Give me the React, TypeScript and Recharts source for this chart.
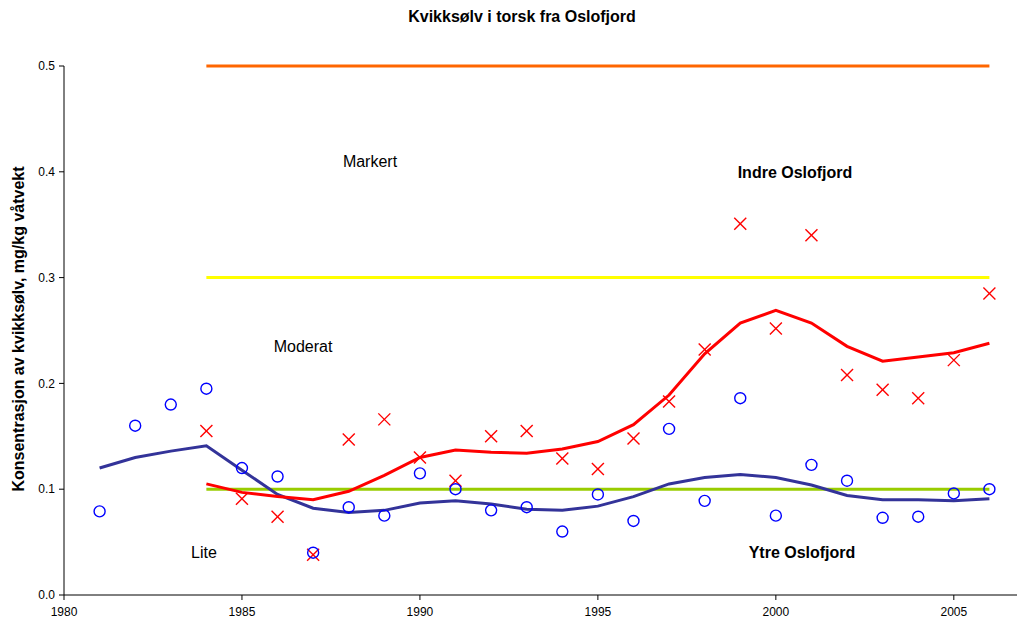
import React from "react";
import { ComposedChart, Line, XAxis, YAxis, ReferenceLine } from "recharts";

const years = [1981,1982,1983,1984,1985,1986,1987,1988,1989,1990,1991,1992,1993,1994,1995,1996,1997,1998,1999,2000,2001,2002,2003,2004,2005,2006];
const ytre = [0.079,0.160,0.180,0.195,0.120,0.112,0.040,0.083,0.075,0.115,0.100,0.080,0.083,0.060,0.095,0.070,0.157,0.089,0.186,0.075,0.123,0.108,0.073,0.074,0.096,0.100];
const indre = [null,null,null,0.155,0.091,0.074,0.038,0.147,0.166,0.130,0.108,0.150,0.155,0.129,0.119,0.148,0.183,0.232,0.351,0.252,0.340,0.208,0.194,0.186,0.222,0.285];
const ytreTrend = [0.120,0.130,0.136,0.141,0.118,0.095,0.082,0.078,0.080,0.087,0.089,0.086,0.081,0.080,0.084,0.093,0.105,0.111,0.114,0.111,0.104,0.094,0.090,0.090,0.089,0.091];
const indreTrend = [null,null,null,0.105,0.097,0.093,0.090,0.098,0.113,0.130,0.137,0.135,0.134,0.138,0.145,0.161,0.189,0.228,0.257,0.269,0.257,0.235,0.221,0.225,0.229,0.238];
const thresholds = [0.1, 0.3, 0.5];
const thresholdColors = ["#99CC00", "#FFFF00", "#FF6600"];
const thresholdStart = 1984;
const thresholdEnd = 2006;
const xTicks = [1980, 1985, 1990, 1995, 2000, 2005];
const yTicks = [0, 0.1, 0.2, 0.3, 0.4, 0.5];

const data = years.map((y, i) => ({
  year: y,
  ytre: ytre[i],
  indre: indre[i],
  ytreTrend: ytreTrend[i],
  indreTrend: indreTrend[i],
}));

const Circle = (p: any) => {
  if (p.cy == null || p.value == null) return <g key={p.key} />;
  return <circle key={p.key} cx={p.cx} cy={p.cy} r={5.5} fill="none" stroke="#0000FF" strokeWidth={1.4} />;
};
const Cross = (p: any) => {
  if (p.cy == null || p.value == null) return <g key={p.key} />;
  const s = 6;
  return (
    <g key={p.key}>
      <line x1={p.cx - s} y1={p.cy - s} x2={p.cx + s} y2={p.cy + s} stroke="#FF0000" strokeWidth={1.4} />
      <line x1={p.cx - s} y1={p.cy + s} x2={p.cx + s} y2={p.cy - s} stroke="#FF0000" strokeWidth={1.4} />
    </g>
  );
};

const font = "'Liberation Sans', Arial, sans-serif";

const Txt = ({ x, y, bold, size, children, rotate }: any) => (
  <div
    style={{
      position: "absolute",
      left: x,
      top: y,
      transform: `translate(-50%,-50%)${rotate ? " rotate(-90deg)" : ""}`,
      fontFamily: font,
      fontSize: size,
      fontWeight: bold ? "bold" : "normal",
      lineHeight: 1,
      whiteSpace: "nowrap",
      color: "#000",
    }}
  >
    {children}
  </div>
);

export default function App() {
  return (
    <div style={{ position: "fixed", left: 0, top: 0, width: 1017, height: 621, overflow: "hidden", background: "#fff" }}>
      <ComposedChart width={1040} height={621} data={data} margin={{ top: 66, right: 15, bottom: 6, left: 14 }}>
        <XAxis
          dataKey="year"
          type="number"
          domain={[1980, 2007]}
          ticks={xTicks}
          allowDecimals={false}
          height={20}
          tick={{ fontSize: 12, fill: "#000", fontFamily: font }}
          tickLine={{ stroke: "#000" }}
          axisLine={{ stroke: "#000" }}
          tickSize={5}
          tickMargin={7}
        />
        <YAxis
          type="number"
          domain={[0, 0.5]}
          ticks={yTicks}
          width={50}
          tickFormatter={(v: number) => v.toFixed(1)}
          tick={{ fontSize: 12, fill: "#000", fontFamily: font }}
          tickLine={{ stroke: "#000" }}
          axisLine={{ stroke: "#000" }}
          tickSize={5}
          tickMargin={4}
        />
        {thresholds.map((t, i) => (
          <ReferenceLine
            key={t}
            segment={[{ x: thresholdStart, y: t }, { x: thresholdEnd, y: t }]}
            stroke={thresholdColors[i]}
            strokeWidth={3}
            ifOverflow="visible"
          />
        ))}
        <Line dataKey="ytreTrend" type="linear" stroke="#333399" strokeWidth={3} dot={false} isAnimationActive={false} connectNulls={false} />
        <Line dataKey="indreTrend" type="linear" stroke="#FF0000" strokeWidth={3} dot={false} isAnimationActive={false} connectNulls={false} />
        <Line dataKey="indre" type="linear" stroke="none" strokeWidth={0} dot={Cross} activeDot={false} isAnimationActive={false} />
        <Line dataKey="ytre" type="linear" stroke="none" strokeWidth={0} dot={Circle} activeDot={false} isAnimationActive={false} />
      </ComposedChart>
      <Txt x={522} y={17} bold size={16}>Kvikksølv i torsk fra Oslofjord</Txt>
      <Txt x={19} y={329} bold size={16} rotate>Konsentrasjon av kvikksølv, mg/kg våtvekt</Txt>
      <Txt x={370} y={162} size={16}>Markert</Txt>
      <Txt x={303} y={347} size={16}>Moderat</Txt>
      <Txt x={204} y={553} size={16}>Lite</Txt>
      <Txt x={795} y={173} bold size={16}>Indre Oslofjord</Txt>
      <Txt x={802} y={553} bold size={16}>Ytre Oslofjord</Txt>
    </div>
  );
}
